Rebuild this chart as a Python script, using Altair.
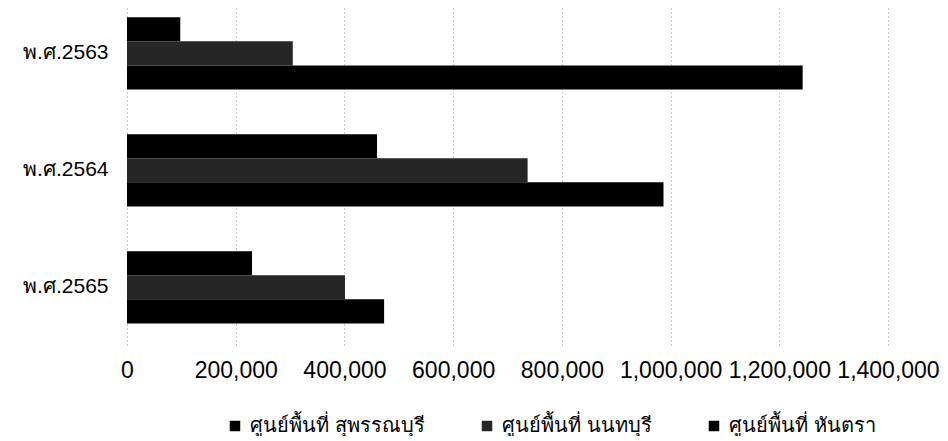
import altair as alt
import pandas as pd

years = ["พ.ศ.2563", "พ.ศ.2564", "พ.ศ.2565"]
series = ["ศูนย์พื้นที่ สุพรรณบุรี", "ศูนย์พื้นที่ นนทบุรี", "ศูนย์พื้นที่ หันตรา"]
suphan = [98000, 460000, 230000]
nonthaburi = [305000, 737000, 401000]
hantra = [1243000, 987000, 473000]
x_ticks = [0, 200000, 400000, 600000, 800000, 1000000, 1200000, 1400000]
colors = ["#000000", "#262626", "#000000"]

rows = []
for i, y in enumerate(years):
    for s, vals in zip(series, [suphan, nonthaburi, hantra]):
        rows.append({"year": y, "series": s, "value": vals[i]})
df = pd.DataFrame(rows)

chart = alt.Chart(df).mark_bar().encode(
    y=alt.Y("year:N", sort=years, title=None,
            scale=alt.Scale(paddingInner=0.382, paddingOuter=0.132, align=0.3),
            axis=alt.Axis(labelFontSize=21, labelFont="Liberation Sans", labelColor="#000",
                          ticks=False, domain=False, labelPadding=19,
                          minExtent=119, maxExtent=119)),
    yOffset=alt.YOffset("series:N", sort=series),
    x=alt.X("value:Q", title=None,
            scale=alt.Scale(domain=[0, 1400000], nice=False),
            axis=alt.Axis(values=x_ticks, format=",d", labelFontSize=23,
                          labelFont="Liberation Sans", labelColor="#000",
                          ticks=False, domain=False, labelPadding=14,
                          labelFlush=False, labelBound=False,
                          grid=True, gridColor="#999", gridDash=[1, 3], gridWidth=1,
                          labelOverlap=False)),
    color=alt.Color("series:N", sort=series,
                    scale=alt.Scale(domain=series, range=colors),
                    legend=alt.Legend(title=None, orient="none", direction="horizontal",
                                      legendX=98, legendY=408,
                                      symbolType="square", symbolSize=110,
                                      symbolStrokeWidth=0, labelLimit=400,
                                      labelFontSize=20, labelColor="#000",
                                      columnPadding=52, labelOffset=5)),
).properties(
    width=761, height=337,
    padding={"left": 0, "top": 0, "right": 0, "bottom": 0},
).configure_view(stroke=None)

chart.save("out.html", embed_options={"renderer": "svg", "actions": False})
